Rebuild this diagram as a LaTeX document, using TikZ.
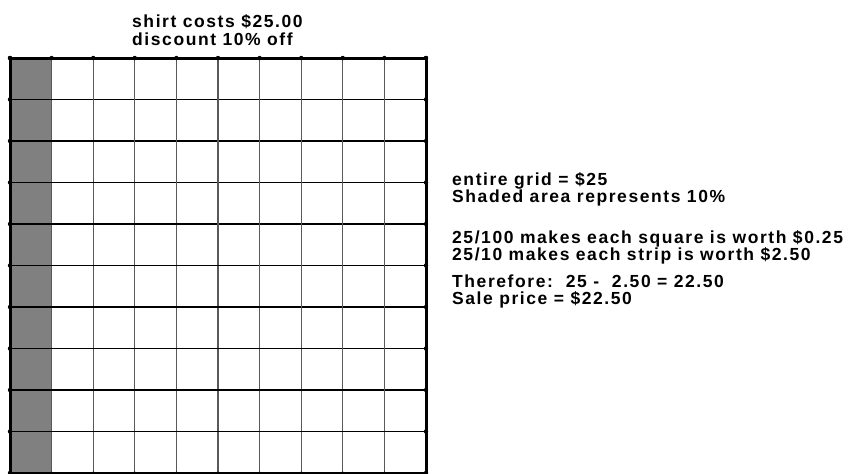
\documentclass[tikz,border=0pt]{standalone}
\usepackage{fontspec}
\setmainfont{Liberation Sans}[LetterSpace=9.0]
\usetikzlibrary{positioning}

\begin{document}
\begin{tikzpicture}[x=1pt, y=-1pt,
  label/.style={anchor=base west, inner sep=0pt, font=\fontsize{17.5}{17.5}\selectfont\bfseries},
  rowline/.style={draw=black, line width=1.1pt},
  colline/.style={draw=black!65, line width=1.1pt},
  border/.style={draw=black, line width=3pt},
  corner/.style={fill=black}]
\useasboundingbox (0,0) rectangle (857,474);
% shaded strip = 10%
\fill [black!50] (10,58) rectangle (51.6,473);
% grid lines
\foreach \i in {1,...,9} {
  \draw [colline] (10+41.6*\i,58) -- (10+41.6*\i,473);
  \draw [rowline] (10,58+41.5*\i) -- (426,58+41.5*\i);
}
\draw [rowline] (10,473) -- (426,473);
\draw [border] (10,473) -- (10,58) -- (426,58) -- (426,473);
% dots along the edges
\foreach \i in {0,...,10} {
  \fill [corner] (10+41.6*\i,58) circle (2.2);
  \fill [corner] (10+41.6*\i,473) circle (1.6);
  \fill [corner] (10,58+41.5*\i) circle (2.2);
  \fill [corner] (426,58+41.5*\i) circle (2.2);
}
\node [label] (cost) at (132,27) {shirt costs \$25.00};
\node [label] (discount) at (132,45) {discount 10\% off};
\node [label] (whole) at (452,185) {entire grid = \$25};
\node [label] (shaded) at (452,202) {Shaded area represents 10\%};
\node [label] (square) at (452,243) {25/100 makes each square is worth \$0.25};
\node [label] (strip) at (452,260) {25/10 makes each strip is worth \$2.50};
\node [label] (therefore) at (452,287) {Therefore:\ \ 25 -\ \ 2.50 = 22.50};
\node [label] (sale) at (452,304) {Sale price = \$22.50};
\end{tikzpicture}
\end{document}
